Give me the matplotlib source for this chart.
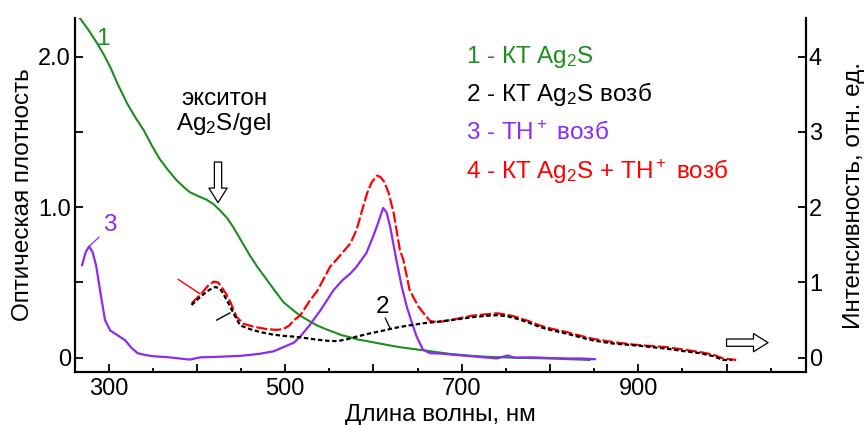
import matplotlib
matplotlib.use('Agg')
import matplotlib.pyplot as plt
from matplotlib.ticker import FixedLocator, FuncFormatter

plt.rcParams['font.family'] = ['Liberation Sans', 'DejaVu Sans']
plt.rcParams['mathtext.fontset'] = 'custom'
plt.rcParams['mathtext.rm'] = 'Liberation Sans'
plt.rcParams['mathtext.it'] = 'Liberation Sans'
plt.rcParams['font.size'] = 17.5

# 1 - absorption of Ag2S QDs (left axis, optical density)
wl_1 = [267, 277, 287, 295, 302, 311, 321, 330, 340, 349, 358, 367, 377, 385,
        392, 401, 411, 419, 426, 434, 441, 450, 460, 469, 479, 489, 498, 508,
        517, 527, 536, 546, 555, 564, 574, 583, 593, 602, 611, 620, 630, 640,
        649, 668, 687, 706, 725, 760, 800, 845]
od_1 = [2.26, 2.18, 2.09, 2.01, 1.93, 1.81, 1.69, 1.60, 1.51, 1.41, 1.32, 1.25,
        1.18, 1.135, 1.10, 1.075, 1.05, 1.02, 0.98, 0.93, 0.87, 0.78, 0.68,
        0.60, 0.52, 0.44, 0.37, 0.32, 0.28, 0.245, 0.215, 0.19, 0.17, 0.15,
        0.135, 0.12, 0.11, 0.10, 0.09, 0.08, 0.07, 0.062, 0.055, 0.04, 0.025,
        0.015, 0.007, 0.0, -0.005, -0.015]

# 2 - excitation spectrum of Ag2S QDs (right axis)
wl_2 = [394, 405, 414, 421, 426, 430, 436, 442, 449, 460, 472, 485, 498, 510,
        517, 527, 536, 548, 559, 570, 581, 595, 611, 626, 641, 658, 675, 695,
        713, 726, 740, 752, 762, 775, 788, 800, 819, 835, 849, 870, 900, 932,
        950, 970, 985, 996, 1006]
int_2 = [0.70, 0.82, 0.90, 0.94, 0.92, 0.85, 0.72, 0.58, 0.43, 0.38, 0.34, 0.31,
         0.29, 0.28, 0.27, 0.255, 0.24, 0.225, 0.22, 0.245, 0.28, 0.32, 0.36,
         0.40, 0.43, 0.46, 0.48, 0.51, 0.54, 0.555, 0.565, 0.55, 0.52, 0.47,
         0.41, 0.37, 0.32, 0.27, 0.23, 0.19, 0.16, 0.12, 0.09, 0.06, 0.02,
         -0.03, -0.03]

# 3 - TH+ excitation spectrum (right axis)
wl_3 = [270, 274, 278, 282, 286, 291, 296, 302, 310, 319, 326, 333, 340, 350,
        366, 380, 392, 404, 420, 450, 470, 487, 500, 510, 517, 527, 540, 555,
        565, 574, 581, 592, 600, 605, 611, 615, 619, 626, 632, 638, 644, 649,
        656, 664, 676, 700, 720, 740, 752, 760, 780, 800, 820, 834, 851]
int_3 = [1.23, 1.40, 1.48, 1.40, 1.22, 0.85, 0.50, 0.36, 0.30, 0.23, 0.13, 0.06,
         0.04, 0.02, 0.008, -0.01, -0.025, 0.005, 0.01, 0.025, 0.05, 0.085, 0.15,
         0.20, 0.28, 0.42, 0.63, 0.90, 1.03, 1.12, 1.21, 1.39, 1.62, 1.78, 1.99,
         1.93, 1.74, 1.30, 0.95, 0.67, 0.45, 0.28, 0.11, 0.06, 0.055, 0.03,
         0.01, -0.01, 0.03, 0.0, 0.005, -0.005, -0.01, -0.01, -0.02]

# 4 - excitation spectrum of Ag2S QDs + TH+ (right axis)
wl_4 = [394, 405, 413, 419, 424, 428, 433, 438, 445, 453, 465, 479, 490, 498,
        505, 509, 517, 528, 536, 547, 551, 558, 566, 574, 581, 587, 593, 598,
        604, 608, 612, 617, 623, 630, 634, 641, 645, 651, 657, 664, 668, 677,
        687, 700, 713, 726, 740, 752, 762, 775, 788, 800, 819, 835, 849, 870,
        894, 915, 932, 950, 970, 985, 996, 1011]
int_4 = [0.72, 0.85, 0.96, 1.01, 1.00, 0.94, 0.85, 0.74, 0.54, 0.45, 0.41, 0.38,
         0.37, 0.38, 0.43, 0.49, 0.56, 0.76, 0.88, 1.12, 1.21, 1.30, 1.41, 1.52,
         1.70, 1.95, 2.19, 2.33, 2.42, 2.40, 2.34, 2.20, 1.92, 1.43, 1.30, 0.90,
         0.81, 0.68, 0.59, 0.49, 0.48, 0.48, 0.50, 0.53, 0.56, 0.575, 0.59, 0.57,
         0.54, 0.49, 0.43, 0.39, 0.34, 0.29, 0.25, 0.21, 0.175, 0.155, 0.14, 0.11,
         0.075, 0.04, -0.01, -0.03]

green = '#1e8c1e'
violet = '#8c2cf0'
red = '#ff0000'

fig = plt.figure(figsize=(8.65, 4.25), dpi=100)
ax = fig.add_axes([0.0867, 0.1247, 0.8451, 0.8329])
ax2 = ax.twinx()

ax.plot(wl_1, od_1, color=green, lw=1.5)
ax2.plot(wl_3, int_3, color=violet, lw=1.6)
ax2.plot(wl_4, int_4, color=red, lw=1.6, dashes=(5, 1.3))
ax2.plot(wl_2, int_2, color='black', lw=1.6, dashes=(2, 1.2))

ax.set_xlim(262, 1090)
ax.set_ylim(-0.095, 2.257)
ax2.set_ylim(-0.19, 4.514)

for a in (ax, ax2):
    a.spines['top'].set_visible(False)
    for s in a.spines.values():
        s.set_linewidth(1.5)
    a.tick_params(which='both', direction='in', width=1.3, labelsize=17)
    a.tick_params(which='major', length=6)
    a.tick_params(which='minor', length=3)

# x axis: long ticks every 100 nm, labels every 200 nm
ax.xaxis.set_major_locator(FixedLocator(range(300, 1001, 100)))
ax.xaxis.set_minor_locator(FixedLocator(range(350, 1051, 100)))
ax.xaxis.set_major_formatter(FuncFormatter(
    lambda v, p: f'{v:.0f}' if int(round(v)) in (300, 500, 700, 900) else ''))
ax.tick_params(axis='x', pad=4)

ax.yaxis.set_major_locator(FixedLocator([0, 0.5, 1.0, 1.5, 2.0]))
ax.yaxis.set_major_formatter(FuncFormatter(
    lambda v, p: {0: '0', 1: '1.0', 2: '2.0'}.get(v, '') if v == int(v) else ''))
ax.tick_params(axis='y', pad=3)

ax2.yaxis.set_major_locator(FixedLocator([0, 1, 2, 3, 4]))
ax2.yaxis.set_major_formatter(FuncFormatter(lambda v, p: f'{v:.0f}'))
ax2.tick_params(axis='y', pad=2)

ax.set_xlabel('Длина волны, нм', labelpad=3)
ax.set_ylabel('Оптическая плотность', labelpad=3)
ax2.set_ylabel('Интенсивность, отн. ед.', labelpad=15)

# curve labels and leaders
ax.text(294, 2.12, '1', color=green, ha='center', va='center')
ax2.text(302, 1.76, '3', color=violet, ha='center', va='center')
ax2.plot([279, 289], [1.49, 1.60], color=violet, lw=0.9)
ax2.text(610, 0.68, '2', color='black', ha='center', va='center')
ax2.plot([613.5, 619], [0.525, 0.39], color='black', lw=0.9)
ax2.plot([379, 403.5], [1.04, 0.85], color=red, lw=1.0)
ax2.plot([422.5, 437.5], [0.50, 0.595], color='black', lw=1.0)

# exciton marker
ax.text(431, 1.51, 'экситон\nAg$\\mathregular{_2}$S/gel', ha='center',
        va='baseline', multialignment='center', linespacing=1.05)
arrow = dict(arrowstyle='simple,head_width=0.75,head_length=0.6,tail_width=0.3',
             fc='white', ec='black', lw=0.9, shrinkA=0, shrinkB=0)
ax.annotate('', xy=(424, 1.03), xytext=(424, 1.30), arrowprops=arrow,
            annotation_clip=False)
ax2.annotate('', xy=(1047, 0.20), xytext=(1000, 0.20), arrowprops=arrow,
             annotation_clip=False)

# legend text
lx = 705
ax2.text(lx, 3.92, r'1 - КТ Ag$\mathregular{_2}$S', color=green, va='baseline')
ax2.text(lx, 3.41, r'2 - КТ Ag$\mathregular{_2}$S возб', color='black', va='baseline')
ax2.text(lx, 2.90, r'3 - TH$\mathregular{^+}$ возб', color=violet, va='baseline')
ax2.text(lx, 2.39, r'4 - КТ Ag$\mathregular{_2}$S + TH$\mathregular{^+}$ возб',
         color=red, va='baseline')

fig.savefig('out.png', dpi=100)
